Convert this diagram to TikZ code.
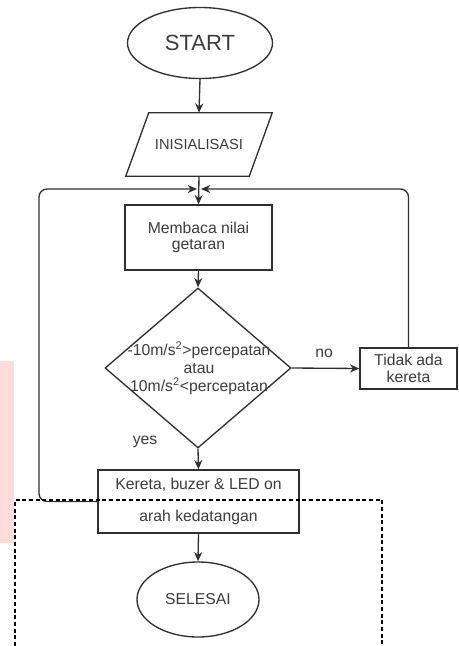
\documentclass[tikz,border=0pt]{standalone}
\usepackage{fontspec}
\setmainfont{Liberation Sans}
\usetikzlibrary{shapes.geometric,arrows.meta}
\definecolor{ln}{HTML}{303030}
\definecolor{tx}{HTML}{3C3C3C}
\definecolor{pinkbg}{HTML}{FFDCDC}
\begin{document}
\begin{tikzpicture}[x=0.75pt,y=-0.75pt,
  every node/.style={text=tx, font=\fontsize{11.8}{12.5}\selectfont},
  box/.style={draw=ln, line width=1pt, rectangle, inner sep=0pt},
  term/.style={draw=ln, line width=1pt, ellipse, inner sep=0pt},
  arr/.style={draw=ln, line width=1pt, -{Stealth[length=7pt,width=6pt]}},
  line/.style={draw=ln, line width=1pt},
  dashbox/.style={draw=black, line width=0.8pt, dash pattern=on 3pt off 2pt}]
\useasboundingbox (0,0) rectangle (459,646);
\fill[pinkbg] (0,361) rectangle (14,543);

\node[term, minimum width=108.75pt, minimum height=53.25pt, font=\fontsize{16.5}{18}\selectfont] (start) at (200,43) {START};
\node[minimum width=109.5pt, minimum height=47.25pt, inner sep=0pt, font=\fontsize{11}{13}\selectfont] (init) at (199,144.5) {INISIALISASI};
\draw[line] ([xshift=17.25pt]init.north west) -- (init.north east) -- ([xshift=-17.25pt]init.south east) -- (init.south west) -- cycle;
\node[box, minimum width=110.25pt, minimum height=48.75pt, align=center] (read) at (198.5,237.5) {Membaca nilai\\getaran};
\node[diamond, draw=ln, line width=1pt, minimum width=139.5pt, minimum height=120pt, inner sep=0pt] (dec) at (198,368) {};
\node[align=center, font=\fontsize{11.8}{13.5}\selectfont] (dtext) at (199,368.5) {-10m/s\textsuperscript{2}>percepatan\\atau\\10m/s\textsuperscript{2}<percepatan};
\node[box, minimum width=72.75pt, minimum height=30.75pt, align=center] (no) at (408.5,368.5) {Tidak ada\\kereta};
\node[box, minimum width=150.75pt, minimum height=47.25pt, align=center] (ker) at (198.5,501.5) {Kereta, buzer \& LED on\\[11.5pt]arah kedatangan};
\node[term, minimum width=91.5pt, minimum height=56.25pt] (end) at (198,599.5) {SELESAI};

\node (nolbl) at (324,353) {no};
\node (yeslbl) at (145,442) {yes};

\coordinate (lc) at (39,189);
\coordinate (mL) at (197,189);
\coordinate (mR) at (201,189);

\draw[arr] (start.south) -- (init.north);
\draw[arr] (init.south) -- (read.north);
\draw[arr] (read.south) -- (dec.north);
\draw[arr] (dec.south) -- (ker.north);
\draw[arr] (dec.east) -- (no.west);
\draw[arr] (ker.south) -- (end.north);
\draw[arr, rounded corners=6pt] (ker.west) -| (lc) -- (mL);
\draw[arr, rounded corners=6pt] (no.north) |- (mR);

\draw[dashbox] (15,646) -- (15,500) -- (382,500) -- (382,646);
\end{tikzpicture}
\end{document}
